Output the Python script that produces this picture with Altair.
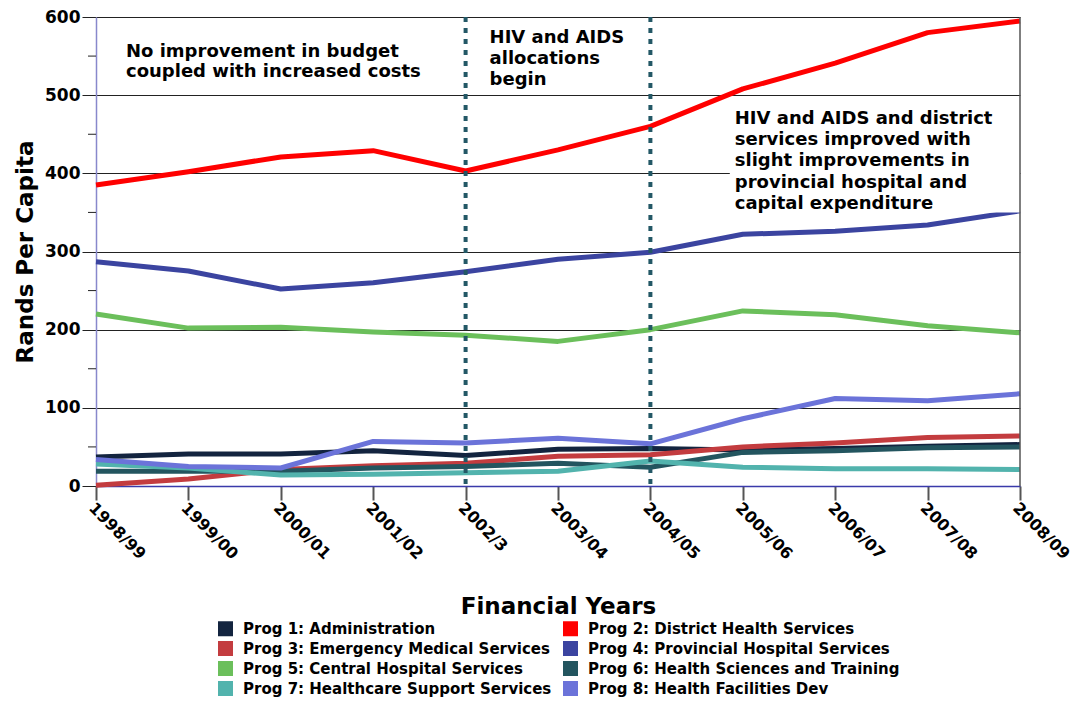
import altair as alt
import pandas as pd

years = ["1998/99", "1999/00", "2000/01", "2001/02", "2002/3", "2003/04",
         "2004/05", "2005/06", "2006/07", "2007/08", "2008/09"]

programmes = [
    "Prog 1: Administration",
    "Prog 2: District Health Services",
    "Prog 3: Emergency Medical Services",
    "Prog 4: Provincial Hospital Services",
    "Prog 5: Central Hospital Services",
    "Prog 6: Health Sciences and Training",
    "Prog 7: Healthcare Support Services",
    "Prog 8: Health Facilities Dev",
]

prog1 = [37, 41, 41, 45, 39, 47, 48, 46, 48, 51, 53]
prog2 = [385, 402, 421, 429, 403, 430, 460, 508, 541, 580, 595]
prog3 = [1, 9, 21, 26, 29, 38, 40, 50, 55, 62, 64]
prog4 = [287, 275, 252, 260, 274, 290, 299, 322, 326, 334, 352]
prog5 = [220, 202, 203, 197, 193, 185, 200, 224, 219, 205, 196]
prog6 = [19, 19, 19, 23, 25, 29, 24, 43, 45, 49, 50]
prog7 = [28, 23, 14, 15, 17, 19, 32, 24, 22, 22, 21]
prog8 = [34, 25, 23, 57, 55, 61, 54, 86, 112, 109, 118]

colors = ["#13243f", "#ff0000", "#c33c3f", "#3b44a0",
          "#6bbf5b", "#23555f", "#52b3ad", "#6b73d9"]

# legend is laid out column by column: left column odd programmes, right column even
legend_order = [0, 2, 4, 6, 1, 3, 5, 7]

marker_years = ["2002/3", "2004/05"]
minor_ticks = [50, 150, 250, 350, 450, 550]
major_ticks = [0, 100, 200, 300, 400, 500, 600]

ann_texts = [
    "No improvement in budget\ncoupled with increased costs",
    "HIV and AIDS\nallocations\nbegin",
    "HIV and AIDS and district\nservices improved with\nslight improvements in\nprovincial hospital and\ncapital expenditure",
]
ann_years = ["1998/99", "2002/3", "2005/06"]
ann_values = [549, 567, 463]
ann_dx = [30, 24, -8]
ann_lineheight = [20, 21, 21.2]

box_years = ["2005/06", "2008/09"]
box_values = [494, 350]

FONT = "DejaVu Sans"

series = [prog1, prog2, prog3, prog4, prog5, prog6, prog7, prog8]
rows = []
for name, vals in zip(programmes, series):
    for yr, v in zip(years, vals):
        rows.append({"year": yr, "programme": name, "value": v})
df = pd.DataFrame(rows)

x_scale = alt.Scale(type="point", domain=years, padding=0)
y_scale = alt.Scale(domain=[0, 600], nice=False, zero=True)
color_scale = alt.Scale(domain=programmes, range=colors)
legend_scale = alt.Scale(domain=[programmes[i] for i in legend_order],
                         range=[colors[i] for i in legend_order])

x_axis = alt.Axis(
    title="Financial Years", titleFont=FONT, titleFontSize=23, titleFontWeight="bold",
    titleColor="black", titleBaseline="alphabetic", titleAlign="center",
    titleX=462, titleY=127,
    labelAngle=45, labelAlign="left", labelBaseline="middle", labelFont=FONT,
    labelFontSize=16, labelFontWeight="bold", labelColor="black", labelPadding=5,
    labelOffset=-5, labelOverlap=False,
    tickColor="#555555", tickWidth=2, tickSize=14,
    domainColor="#3a3aaa", domainWidth=1.5, grid=False,
)
y_axis = alt.Axis(
    values=major_ticks, title="Rands Per Capita", titleFont=FONT, titleFontSize=23,
    titleFontWeight="bold", titleColor="black", titleAngle=270,
    titleBaseline="alphabetic", titleAlign="center", titleX=-64, titleY=234.5,
    labelFont=FONT, labelFontSize=17, labelFontWeight="bold", labelColor="black",
    labelPadding=2, labelBaseline="middle",
    tickSize=14, tickColor="#222222", tickWidth=1,
    grid=True, gridColor="#222222", gridWidth=1,
    domainColor="#8888cc", domainWidth=1.5,
)

X = lambda: alt.X("year:N", sort=years, scale=x_scale)
Y = lambda: alt.Y("value:Q", scale=y_scale)

lines = alt.Chart(df).mark_line(strokeWidth=5, strokeJoin="round", strokeCap="butt").encode(
    x=alt.X("year:N", sort=years, scale=x_scale, axis=x_axis),
    y=alt.Y("value:Q", scale=y_scale, axis=y_axis),
    color=alt.Color("programme:N", scale=color_scale, legend=None),
    detail="programme:N",
)

box = alt.Chart(pd.DataFrame({"year": [box_years[0]], "year2": [box_years[1]],
                              "value": [box_values[0]], "value2": [box_values[1]]})).mark_rect(
    color="white", xOffset=-13
).encode(x=X(), x2="year2:N", y=Y(), y2="value2:Q")

legend_pts = alt.Chart(df).mark_point(shape="square", filled=True, opacity=0).encode(
    x=X(), y=Y(),
    color=alt.Color(
        "programme:N", scale=legend_scale,
        legend=alt.Legend(
            orient="none", legendX=122, legendY=604, columns=2, title=None,
            symbolType="square", symbolSize=225, symbolStrokeWidth=0, symbolOpacity=1,
            labelFont=FONT, labelFontSize=15, labelFontWeight="bold", labelColor="black",
            labelLimit=500, labelOffset=10, rowPadding=4, columnPadding=11, padding=0,
        ),
    ),
)

minor = alt.Chart(pd.DataFrame({"value": minor_ticks})).mark_rule(
    color="#222222", strokeWidth=1
).encode(y=Y(), x=alt.value(-8), x2=alt.value(0))

markers = alt.Chart(pd.DataFrame({"year": marker_years})).mark_rule(
    color="#235866", strokeWidth=4, strokeDash=[5, 6]
).encode(x=X())

right_edge = alt.Chart(pd.DataFrame({"year": [years[-1]]})).mark_rule(
    color="#555555", strokeWidth=1.5
).encode(x=X())

texts = []
for t, yr, v, dx, lh in zip(ann_texts, ann_years, ann_values, ann_dx, ann_lineheight):
    texts.append(
        alt.Chart(pd.DataFrame({"year": [yr], "value": [v], "label": [t]})).mark_text(
            align="left", baseline="alphabetic", dx=dx, lineBreak="\n", lineHeight=lh,
            font=FONT, fontSize=18, fontWeight="bold", color="black",
        ).encode(x=X(), y=Y(), text="label:N")
    )

chart = alt.layer(lines, box, legend_pts, minor, right_edge, markers, *texts).resolve_scale(
    color="independent"
).resolve_legend(color="independent").properties(
    width=924, height=469,
    autosize=alt.AutoSizeParams(type="none"),
    padding={"left": 88, "top": 9, "right": 54, "bottom": 212},
).configure_view(stroke=None)

chart.save("out.html", embed_options={"renderer": "svg", "actions": False})
